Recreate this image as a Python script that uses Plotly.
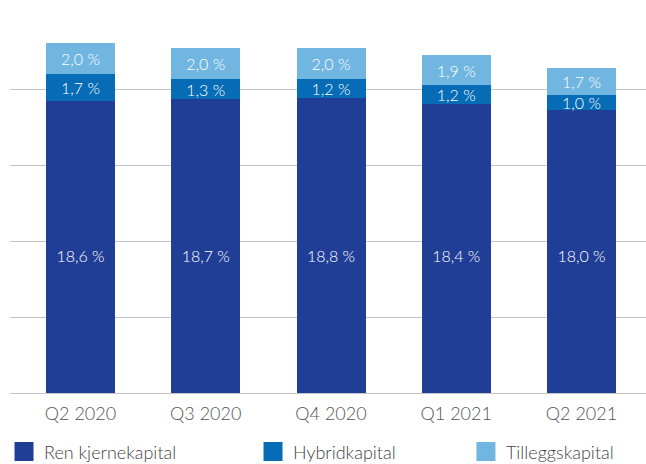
import plotly.graph_objects as go

categories = ["Q2 2020", "Q3 2020", "Q4 2020", "Q1 2021", "Q2 2021"]
ren_kjernekapital = [18.6, 18.7, 18.8, 18.4, 18.0]
hybridkapital = [1.7, 1.3, 1.2, 1.2, 1.0]
tilleggskapital = [2.0, 2.0, 2.0, 1.9, 1.7]

series_names = ["Ren kjernekapital", "Hybridkapital", "Tilleggskapital"]
colors = ["#213E96", "#066CB5", "#71B6E1"]
series_values = [ren_kjernekapital, hybridkapital, tilleggskapital]

FONT = "Lato"
BASE_LABEL_LEVEL = 8.6  # the bottom-segment labels sit on one common level in the original

fig = go.Figure()
for i, (name, vals, col) in enumerate(zip(series_names, series_values, colors)):
    fig.add_trace(go.Bar(
        x=categories, y=vals, marker=dict(color=col, line=dict(width=0)),
        width=0.551,
        texttemplate="%{y:.1f} %" if i > 0 else None,
        textposition="inside" if i > 0 else "none",
        insidetextanchor="middle", textangle=0,
        textfont=dict(family=FONT, size=16, color="#ffffff", weight=300),
        showlegend=False, hoverinfo="skip"))

# labels of the bottom segment, all on one common level
fig.add_trace(go.Scatter(
    x=categories, y=[BASE_LABEL_LEVEL] * len(categories), customdata=ren_kjernekapital,
    mode="text", texttemplate="%{customdata:.1f} %", textposition="middle center",
    textfont=dict(family=FONT, size=16, color="#ffffff", weight=300),
    showlegend=False, hoverinfo="skip"))

legend_ids = ["legend", "legend2", "legend3"]
for name, col, lid in zip(series_names, colors, legend_ids):
    fig.add_trace(go.Scatter(
        x=[None], y=[None], mode="markers", name=name, legend=lid,
        marker=dict(symbol="square", size=16, color=col,
                    line=dict(color=col, width=3))))

legend_common = dict(orientation="h", yanchor="middle", y=-0.155, xanchor="left",
                     font=dict(family=FONT, size=18, color="#444444", weight=300),
                     bgcolor="rgba(0,0,0,0)", itemwidth=30)

fig.update_layout(
    width=646, height=464,
    margin=dict(l=10, r=0, t=13, b=71, autoexpand=False),
    barmode="stack",
    separators=", ",
    plot_bgcolor="white", paper_bgcolor="white",
    uniformtext=dict(minsize=16, mode="show"),
    xaxis=dict(range=[-0.563, 4.515], showgrid=False, zeroline=False,
               showline=False, ticks="", ticklabelstandoff=8,
               tickfont=dict(family=FONT, size=18, color="#555555", weight=300)),
    yaxis=dict(range=[0, 24.2], tick0=0, dtick=4.84, showticklabels=False,
               showgrid=True, gridcolor="#c4c4c4", gridwidth=1.3,
               zeroline=True, zerolinecolor="#c4c4c4", zerolinewidth=1.3,
               ticks=""),
    legend=dict(x=-0.0094, **legend_common),
    legend2=dict(x=0.3821, **legend_common),
    legend3=dict(x=0.7169, **legend_common),
)

fig.write_html("out.html")
